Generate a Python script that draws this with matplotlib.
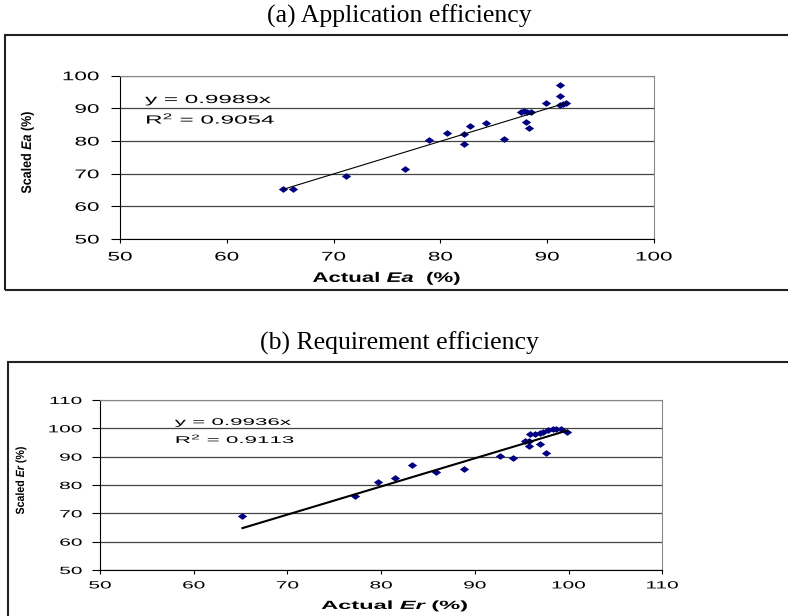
import numpy as np
import matplotlib.pyplot as plt
from matplotlib.patches import Rectangle
from matplotlib.patheffects import AbstractPathEffect
from matplotlib.transforms import Affine2D

# (a) Application efficiency: actual vs scaled Ea (%)
ea_actual = [65.3, 66.2, 71.2, 76.7, 78.9, 80.6, 82.2, 82.2, 82.8, 84.3, 86.0,
             87.5, 87.8, 88.1, 88.5, 88.0, 88.3, 89.9, 91.2, 91.2, 91.2, 91.5, 91.8]
ea_scaled = [65.4, 65.4, 69.4, 71.4, 80.4, 82.5, 82.2, 79.0, 84.5, 85.4, 80.7,
             88.9, 89.1, 88.9, 88.9, 85.8, 84.1, 91.7, 97.0, 93.8, 90.9, 91.3, 91.7]
ea_slope, ea_r2 = 0.9989, 0.9054

# (b) Requirement efficiency: actual vs scaled Er (%)
er_actual = [65.2, 77.2, 79.7, 81.5, 83.3, 85.9, 88.8, 92.7, 94.1, 95.4, 95.8,
             95.8, 95.9, 96.4, 97.0, 97.0, 97.6, 97.3, 97.8, 98.3, 98.7, 99.2, 99.8]
er_scaled = [69.1, 76.2, 81.1, 82.5, 87.1, 84.5, 85.8, 90.4, 89.4, 95.7, 95.7,
             93.7, 98.0, 98.0, 98.5, 94.6, 91.3, 98.7, 99.4, 99.6, 99.9, 99.8, 98.7]
er_slope, er_r2 = 0.9936, 0.9113

plt.rcParams['font.family'] = ['Liberation Sans', 'DejaVu Sans']
plt.rcParams['mathtext.fontset'] = 'custom'
plt.rcParams['mathtext.rm'] = 'Liberation Sans'
plt.rcParams['mathtext.it'] = 'Liberation Sans:italic'
plt.rcParams['mathtext.bf'] = 'Liberation Sans:bold'
plt.rcParams['mathtext.bfit'] = 'Liberation Sans:italic:bold'


class StretchX(AbstractPathEffect):
    # the pasted excel chart has its text squeezed/stretched sideways
    def __init__(self, sx, anchor='center'):
        super().__init__()
        self.sx = sx
        self.anchor = anchor

    def draw_path(self, renderer, gc, tpath, affine, rgbFace=None):
        ext = tpath.get_extents()
        if self.anchor == 'center':
            cx = (ext.x0 + ext.x1) / 2
        elif self.anchor == 'right':
            cx = ext.x1
        else:
            cx = 0
        t = Affine2D().translate(-cx, 0).scale(self.sx, 1).translate(cx, 0) + affine
        renderer.draw_path(gc, tpath, t, rgbFace)


fig = plt.figure(figsize=(7.88, 6.16), dpi=100)

# squashed diamond marker like excel's
diamond = [(-1, 0), (0, 0.72), (1, 0), (0, -0.72), (-1, 0)]


def panel(rect, x, y, slope, r2, lim, top, tick_fs, tick_sx, ypad, xpad,
          ytl, eq_fs, eq_sx, eq_pos, lw):
    ax = fig.add_axes(rect)
    ax.set_xlim(lim)
    ax.set_ylim(lim[0], top)
    ax.set_xticks(np.arange(lim[0], lim[1] + 1, 10))
    ax.set_yticks(np.arange(lim[0], top + 1, 10))
    ax.grid(axis='y', color='#444444', lw=0.9)
    ax.set_axisbelow(True)
    for s in ['top', 'right']:
        ax.spines[s].set_color('#888888')
    ax.tick_params(axis='y', direction='out', length=ytl, labelsize=tick_fs, pad=ypad)
    ax.tick_params(axis='x', direction='out', length=3, labelsize=tick_fs, pad=xpad)
    for lab in ax.get_yticklabels():
        lab.set_path_effects([StretchX(tick_sx, 'right')])
    for lab in ax.get_xticklabels():
        lab.set_path_effects([StretchX(tick_sx, 'center')])
    ax.scatter(x, y, marker=diamond, s=45, color='#000080', zorder=3, lw=0)
    xx = np.array([min(x), max(x)])
    ax.plot(xx, slope * xx, color='black', lw=lw, zorder=4)
    eqs = ['y = %.4fx' % slope, 'R$^2$ = %.4f' % r2]
    for s, yy in zip(eqs, eq_pos[1:]):
        ax.text(eq_pos[0], yy, s, transform=ax.transAxes, fontsize=eq_fs,
                va='center', path_effects=[StretchX(eq_sx, 'left')])
    return ax


def px(x, y):
    return x / 788, 1 - y / 616


# top panel
panel([120 / 788, 1 - 239 / 616, 534 / 788, 163.3 / 616],
      ea_actual, ea_scaled, ea_slope, ea_r2, (50, 100), 100,
      9, 1.8, 8.5, 6, 6.5, 8.5, 2.05, (0.047, 0.851, 0.735), 0.8)
fig.text(*px(387, 278), 'Actual $\\bfit{Ea}$  (%)', fontsize=10, fontweight='bold',
         ha='center', va='center', path_effects=[StretchX(1.6)])
fig.text(*px(27, 152), 'Scaled $\\bfit{Ea}$ (%)', fontsize=10, fontweight='bold',
         rotation=90, ha='center', va='center', path_effects=[StretchX(0.9)])

# bottom panel
panel([100 / 788, 1 - 570 / 616, 562.3 / 788, 170 / 616],
      er_actual, er_scaled, er_slope, er_r2, (50, 110), 110,
      7.5, 2.0, 7, 4.5, 6, 7, 2.3, (0.133, 0.871, 0.776), 1.5)
fig.text(*px(395, 606), 'Actual $\\bfit{Er}$ (%)', fontsize=8.5, fontweight='bold',
         ha='center', va='center', path_effects=[StretchX(2.0)])
fig.text(*px(21, 480), 'Scaled $\\bfit{Er}$ (%)', fontsize=8.5, fontweight='bold',
         rotation=90, ha='center', va='center', path_effects=[StretchX(0.9)])

# outer chart boxes
fig.add_artist(Rectangle(px(5, 290), 800 / 788, 255 / 616,
                         transform=fig.transFigure, fill=False, lw=1.5,
                         ec='#222222'))
fig.add_artist(Rectangle((8 / 788, -0.1), 800 / 788, 1 - 362 / 616 + 0.1,
                         transform=fig.transFigure, fill=False, lw=1.5,
                         ec='#222222'))

fig.text(*px(399, 23), '(a) Application efficiency',
         family='Liberation Serif', fontsize=18.5, ha='center', va='baseline')
fig.text(*px(399, 350), '(b) Requirement efficiency',
         family='Liberation Serif', fontsize=18.5, ha='center', va='baseline')

fig.savefig('out.png', dpi=100)
